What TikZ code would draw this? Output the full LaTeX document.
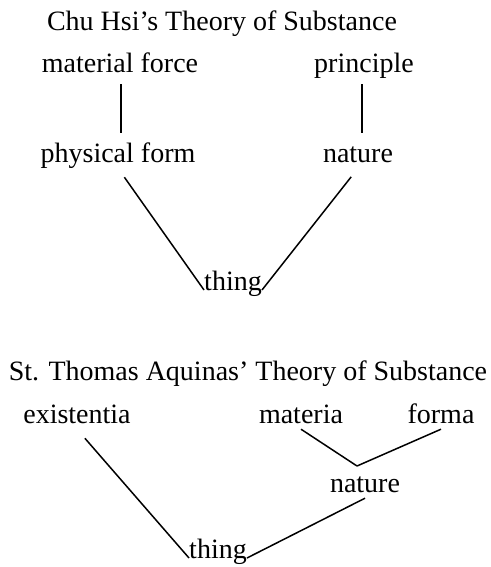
\documentclass[tikz,border=0pt]{standalone}
\usepackage{fontspec}
\setmainfont{Liberation Serif}
\usepackage{tikz}

\begin{document}
\begin{tikzpicture}[
   x=1pt,y=-1pt,
   lbl/.style={font=\fontsize{28}{32}\selectfont,inner sep=0pt,
               text height=19pt,text depth=6pt,anchor=base},
   ttl/.style={lbl},
   ln/.style={line width=1.5pt}
  ]
  \useasboundingbox[fill=white] (0,0) rectangle (490,567);

  % Chu Hsi
  \node[ttl] (ttlchu) at (222,31) {Chu Hsi’s Theory of Substance};
  \node[lbl] (force)  at (120,73) {material force};
  \node[lbl] (prin)   at (364,73) {principle};
  \node[lbl] (form)   at (118,162) {physical form};
  \node[lbl] (natchu) at (358,162) {nature};
  \node[lbl] (thchu)  at (233,290) {thing};

  \draw[ln,shorten <=5pt,shorten >=10pt] ([xshift=1pt]force.south)
       -- ([xshift=1pt]force.south |- form.north);
  \draw[ln,shorten <=5pt,shorten >=10pt] ([xshift=-2pt]prin.south)
       -- ([xshift=-2pt]prin.south |- natchu.north);
  \draw[ln,shorten <=11pt] (form.south) -- (thchu.base west);
  \draw[ln,shorten <=11pt] (natchu.south) -- (thchu.base east);

  % Aquinas
  \node[ttl] (ttlaq)  at (248,380) {St. Thomas Aquinas’ Theory of Substance};
  \node[lbl] (exist)  at (77,423) {existentia};
  \node[lbl] (mat)    at (301,423) {materia};
  \node[lbl] (forma)  at (441,423) {forma};
  \node[lbl] (nataq)  at (365,492) {nature};
  \node[lbl] (thaq)   at (218,558) {thing};
  \coordinate (join) at (357,466);

  \draw[ln] (mat.south) -- (join);
  \draw[ln] (forma.south) -- (join);
  \draw[ln,shorten <=12pt] (exist.south) -- (thaq.base west);
  \draw[ln] (nataq.south) -- (thaq.base east);
\end{tikzpicture}
\end{document}
